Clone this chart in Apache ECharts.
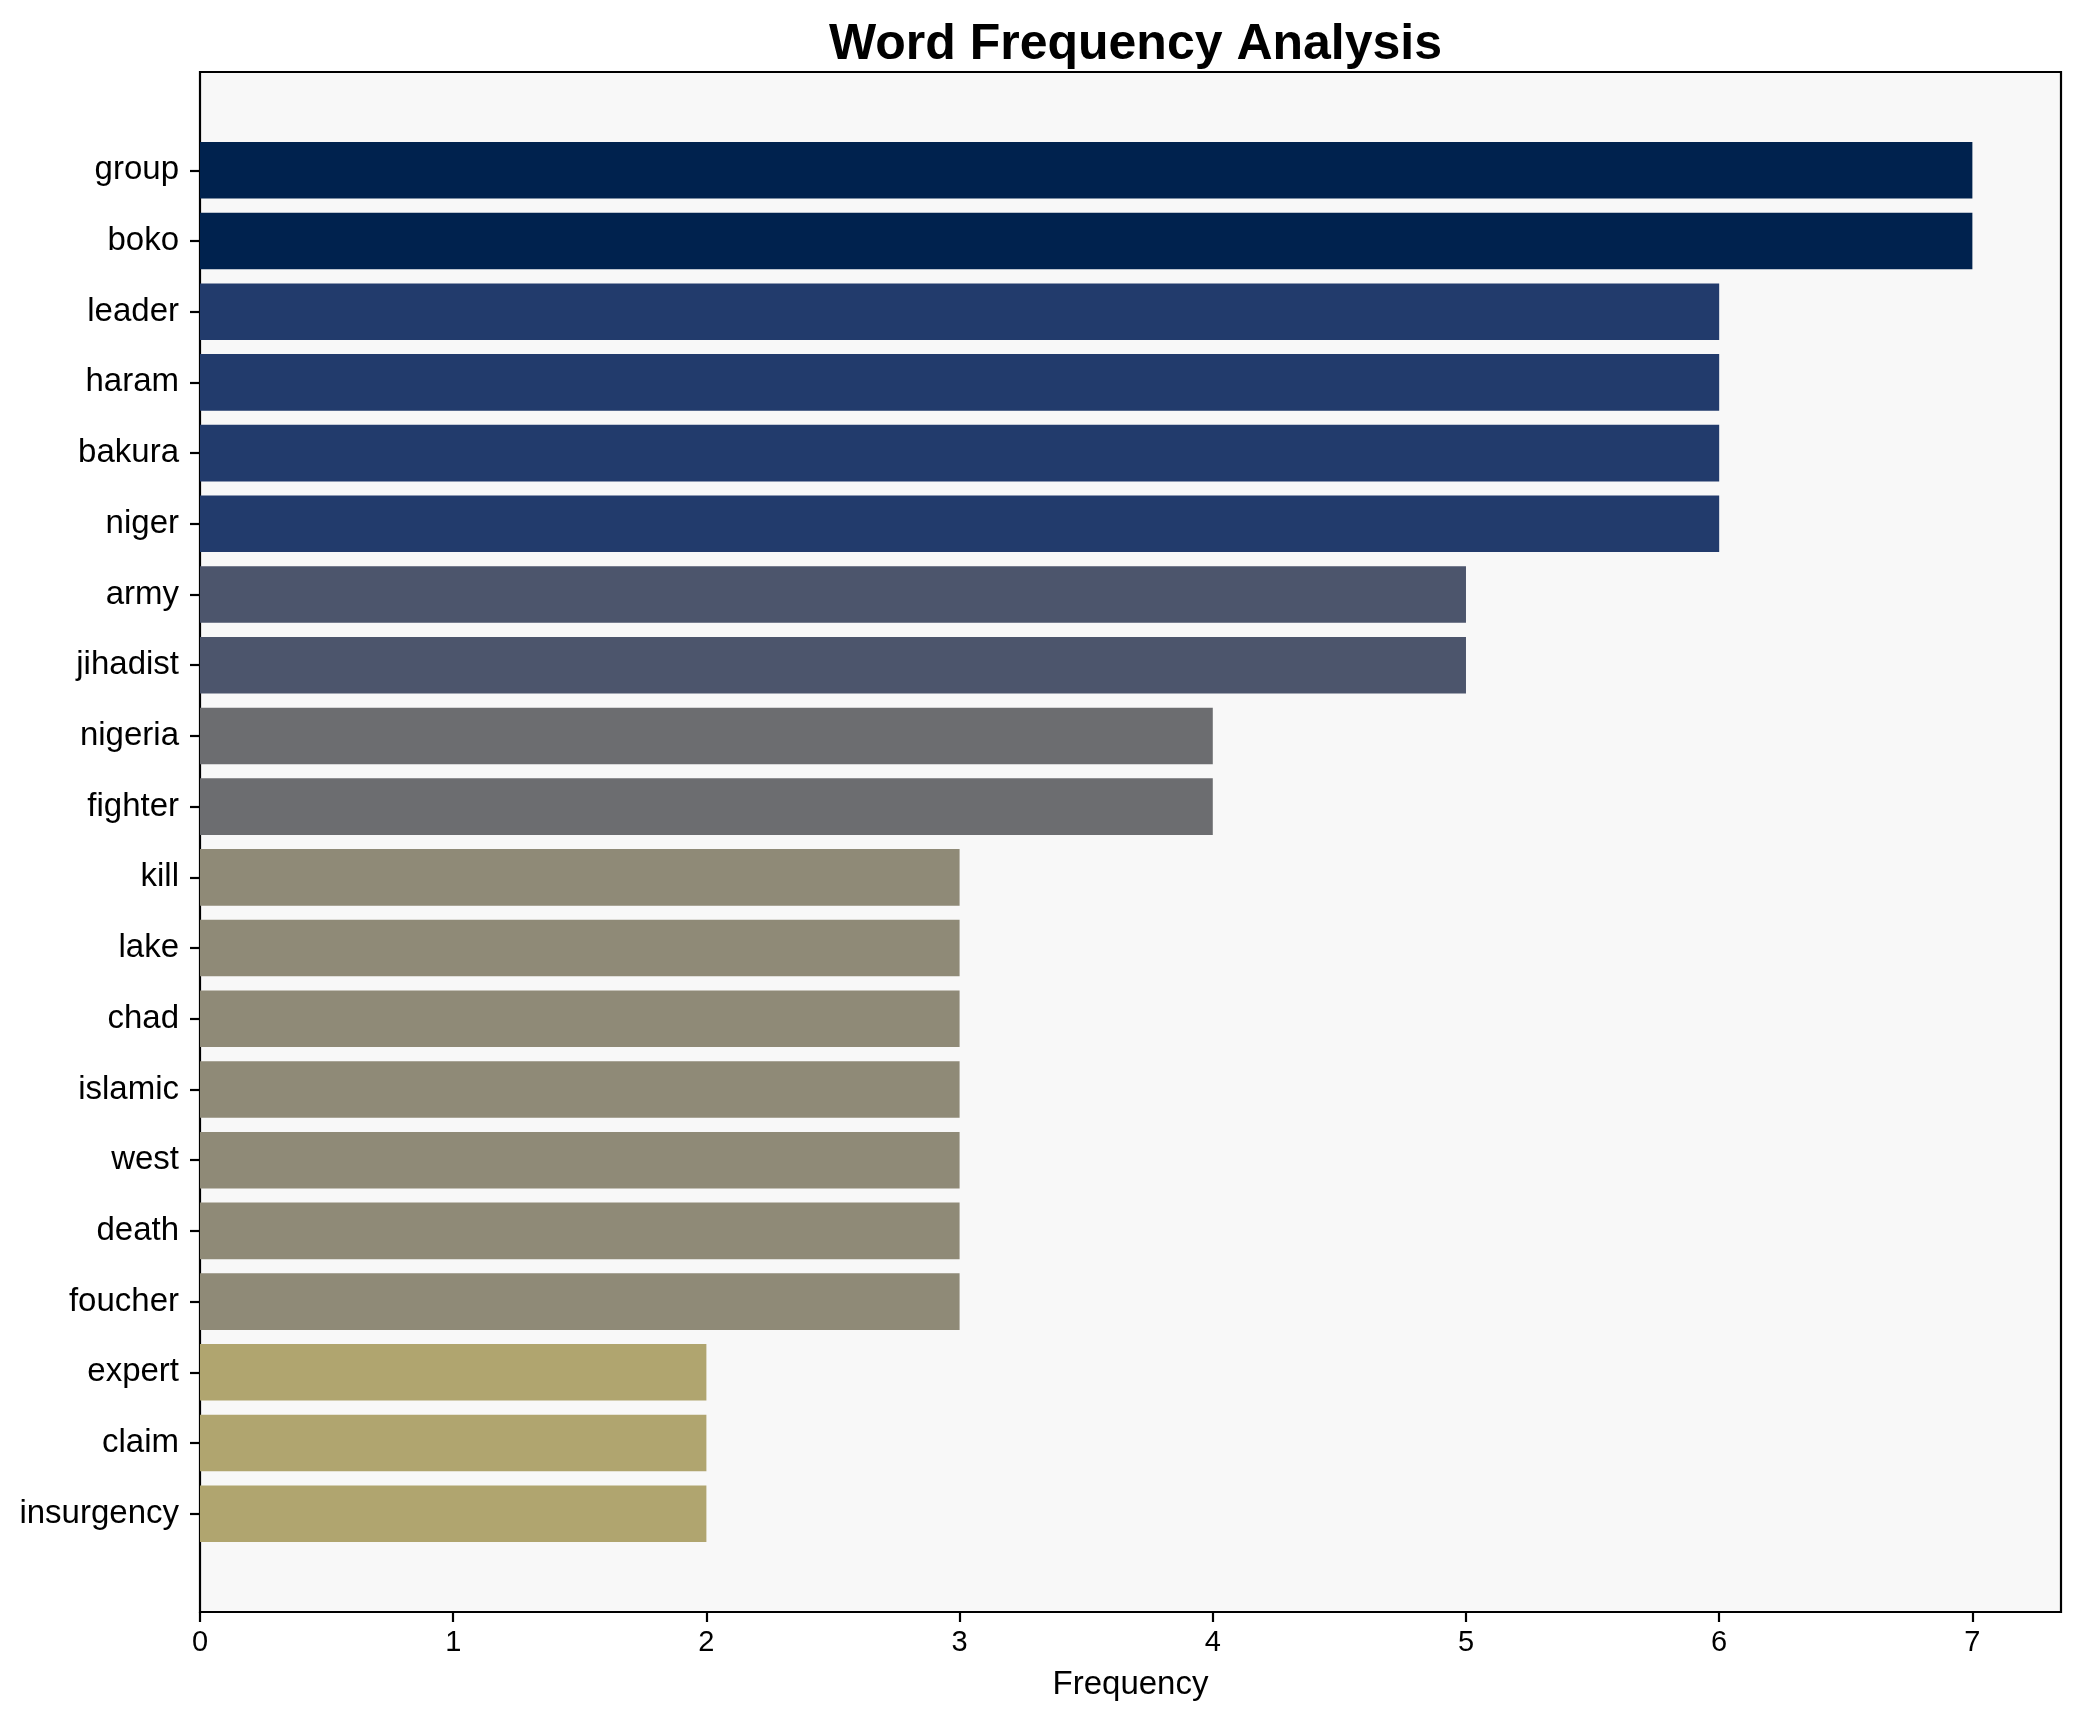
<!DOCTYPE html>
<html>
<head>
<meta charset="utf-8">
<script src="https://cdn.jsdelivr.net/npm/echarts@6/dist/echarts.min.js"></script>
<style>
html,body{margin:0;padding:0;background:#fff;}
#chart{width:2080px;height:1722px;}
</style>
</head>
<body>
<div id="chart"></div>
<script>
const categories = ["group","boko","leader","haram","bakura","niger","army","jihadist","nigeria","fighter","kill","lake","chad","islamic","west","death","foucher","expert","claim","insurgency"];
const frequencies = [7,7,6,6,6,6,5,5,4,4,3,3,3,3,3,3,3,2,2,2];
const xTicks = [0,1,2,3,4,5,6,7];
const colorByValue = {7:"#00224e",6:"#223b6c",5:"#4c556c",4:"#6c6d70",3:"#8f8a77",2:"#b0a56f"};

const FONT = "Liberation Sans, Arial, sans-serif";
const chart = echarts.init(document.getElementById('chart'), null, {renderer:'canvas'});
const L = 200, R = 19, T = 72, B = 110;
const plotH = 1722 - T - B;
const n = frequencies.length;
const span = (n - 0.2) * 1.1;            // data extent with 5% margins
const unit = plotH / span;
const innerPad = (0.05 * (n - 0.2) - 0.1) * unit;

chart.setOption({
  backgroundColor: '#ffffff',
  animation: false,
  title: {
    text: 'Word Frequency Analysis',
    left: (L + 2080 - R) / 2,
    top: 15,
    textAlign: 'center',
    textStyle: {fontFamily: FONT, fontWeight: 'bold', fontSize: 50, color: '#000'}
  },
  grid: [
    {left: L, right: R, top: T, bottom: B, show: true, backgroundColor: '#f8f8f8', borderColor: '#000', borderWidth: 2.2, containLabel: false},
    {left: L, right: R, top: T + innerPad, bottom: B + innerPad, containLabel: false}
  ],
  xAxis: [
    {
      gridIndex: 0, type: 'value', min: 0, max: 7.35,
      name: 'Frequency', nameLocation: 'middle', nameGap: 56,
      nameTextStyle: {fontFamily: FONT, fontSize: 33, color: '#000', verticalAlign: 'top'},
      axisLine: {show: true, lineStyle: {color: '#000', width: 2.2}},
      axisTick: {show: true, length: 10, customValues: xTicks, lineStyle: {color: '#000', width: 2.2}},
      axisLabel: {fontFamily: FONT, fontSize: 29, color: '#000', margin: 16, customValues: xTicks},
      splitLine: {show: false}
    },
    {
      gridIndex: 1, type: 'value', min: 0, max: 7.35, show: false
    }
  ],
  yAxis: [
    {gridIndex: 0, type: 'value', min: 0, max: 1, show: false},
    {
      gridIndex: 1, type: 'category', data: categories, inverse: true,
      axisLine: {show: false},
      axisTick: {show: true, alignWithLabel: true, length: 10, lineStyle: {color: '#000', width: 2.2}},
      axisLabel: {fontFamily: FONT, fontSize: 33, color: '#000', margin: 21},
      splitLine: {show: false}
    }
  ],
  series: [{
    type: 'bar',
    xAxisIndex: 1, yAxisIndex: 1,
    barCategoryGap: '20%',
    data: frequencies.map(v => ({value: v, itemStyle: {color: colorByValue[v]}}))
  }]
});
</script>
</body>
</html>
